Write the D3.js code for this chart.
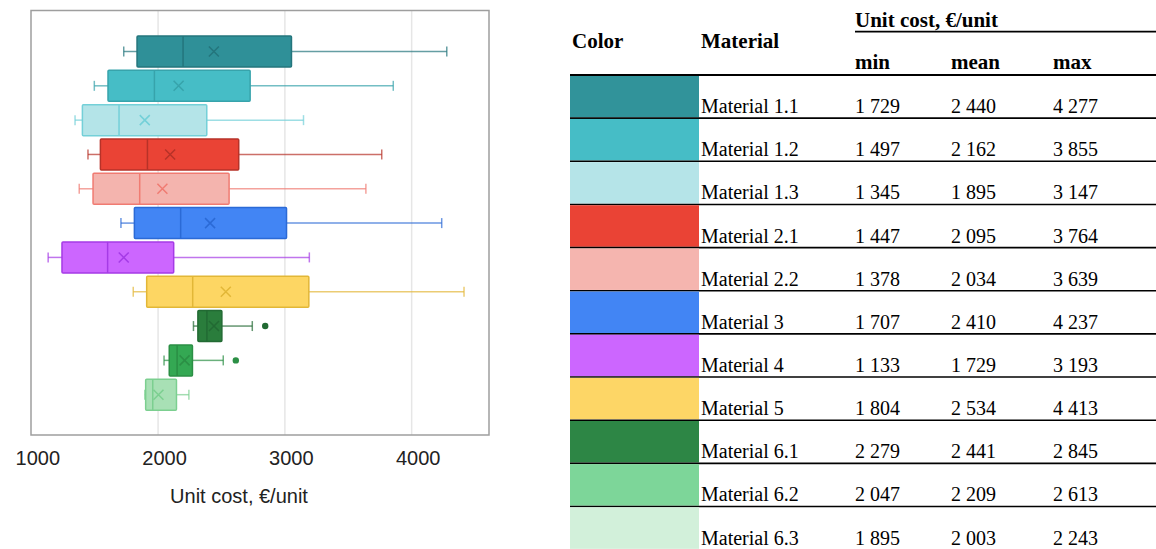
<!DOCTYPE html>
<html>
<head>
<meta charset="utf-8">
<script src="https://cdn.jsdelivr.net/npm/d3@7"></script>
<style>
  html, body { margin: 0; padding: 0; background: #fff; }
  svg { display: block; }
</style>
</head>
<body>
<svg id="chart" width="1156" height="549"></svg>
<script>
// Unit cost distribution per material (€/unit)
const materials = ["Material 1.1", "Material 1.2", "Material 1.3", "Material 2.1", "Material 2.2",
  "Material 3", "Material 4", "Material 5", "Material 6.1", "Material 6.2", "Material 6.3"];
const minVals  = [1729, 1497, 1345, 1447, 1378, 1707, 1133, 1804, 2279, 2047, 1895];
const q1Vals   = [1834, 1605, 1403, 1545, 1487, 1813, 1242, 1910, 2314, 2088, 1902];
const medVals  = [2197, 1971, 1692, 1916, 1855, 2178, 1602, 2273, 2385, 2150, 1958];
const q3Vals   = [3052, 2726, 2384, 2636, 2560, 3013, 2123, 3189, 2503, 2271, 2145];
const meanVals = [2440, 2162, 1895, 2095, 2034, 2410, 1729, 2534, 2441, 2209, 2003];
const upperWhisker = [4277, 3855, 3147, 3764, 3639, 4237, 3193, 4413, 2743, 2514, 2243];
const outliers = [[], [], [], [], [], [], [], [], [2845], [2613], []];
const maxVals  = [4277, 3855, 3147, 3764, 3639, 4237, 3193, 4413, 2845, 2613, 2243];
const xTicks = [1000, 2000, 3000, 4000];
const tableCols = ["min", "mean", "max"];

// Styles
const boxFill   = ["#2f9098", "#46bdc6", "#b4e4e8", "#ea4335", "#f4b4ae", "#4285f4", "#cc66ff", "#fdd663", "#2a7d3c", "#34a853", "#a8e0b5"];
const boxStroke = ["#24757c", "#37a3ab", "#74d0d8", "#b73228", "#f07b72", "#2b6ad6", "#a53be6", "#e2b737", "#226a33", "#2b8f45", "#7ccf90"];
const swatchColor = ["#31939a", "#46bdc6", "#b5e4e8", "#ea4335", "#f5b5af", "#4285f4", "#cc66ff", "#fdd666", "#2d8645", "#7dd699", "#d2f0da"];

const svg = d3.select("#chart");
const sans = "'Liberation Sans', Arial, Helvetica, sans-serif";
const serif = "'Liberation Serif', 'Times New Roman', Times, serif";

// ---------- Box plot ----------
const frame = { left: 31, top: 10.5, right: 489, bottom: 435 };
const x = d3.scaleLinear().domain([1000, 4610]).range([31.3, frame.right]);
const y = d3.scalePoint().domain(materials).range([51.5, 394.7]);
const boxH = 31, capH = 10, markHalf = 5;

const plot = svg.append("g");

plot.selectAll("line.grid").data(xTicks.slice(1)).join("line")
  .attr("class", "grid")
  .attr("x1", d => x(d)).attr("x2", d => x(d))
  .attr("y1", frame.top).attr("y2", frame.bottom)
  .attr("stroke", "#e6e6e6").attr("stroke-width", 1.5);

plot.append("rect")
  .attr("x", frame.left).attr("y", frame.top)
  .attr("width", frame.right - frame.left).attr("height", frame.bottom - frame.top)
  .attr("fill", "none").attr("stroke", "#9e9e9e").attr("stroke-width", 1.5);

const rows = plot.selectAll("g.row").data(materials).join("g")
  .attr("class", "row")
  .attr("transform", d => `translate(0,${y(d)})`);

// whiskers
rows.each(function (d, i) {
  const g = d3.select(this);
  const w = g.append("g").attr("stroke", boxStroke[i]).attr("stroke-opacity", 0.7).attr("stroke-width", 1.5);
  w.append("line").attr("x1", x(minVals[i])).attr("x2", x(q1Vals[i])).attr("y1", 0).attr("y2", 0);
  w.append("line").attr("x1", x(q3Vals[i])).attr("x2", x(upperWhisker[i])).attr("y1", 0).attr("y2", 0);
  [minVals[i], upperWhisker[i]].forEach(v => {
    w.append("line").attr("x1", x(v)).attr("x2", x(v)).attr("y1", -capH / 2).attr("y2", capH / 2);
  });

  g.append("rect")
    .attr("x", x(q1Vals[i])).attr("y", -boxH / 2)
    .attr("width", x(q3Vals[i]) - x(q1Vals[i])).attr("height", boxH)
    .attr("rx", 1)
    .attr("fill", boxFill[i]).attr("stroke", boxStroke[i]).attr("stroke-width", 1.5);

  g.append("line")
    .attr("x1", x(medVals[i])).attr("x2", x(medVals[i]))
    .attr("y1", -boxH / 2).attr("y2", boxH / 2)
    .attr("stroke", boxStroke[i]).attr("stroke-width", 1.5);

  const mx = x(meanVals[i]);
  g.append("path")
    .attr("d", `M${mx - markHalf},${-markHalf}L${mx + markHalf},${markHalf}M${mx - markHalf},${markHalf}L${mx + markHalf},${-markHalf}`)
    .attr("stroke", boxStroke[i]).attr("stroke-width", 1.5).attr("fill", "none");

  g.selectAll("circle").data(outliers[i]).join("circle")
    .attr("cx", v => x(v)).attr("cy", 0).attr("r", 3.2)
    .attr("fill", boxStroke[i]);
});

// x axis
const axis = svg.append("g")
  .attr("transform", `translate(0,${frame.bottom})`)
  .call(d3.axisBottom(x).tickValues(xTicks).tickSize(0).tickPadding(16).tickFormat(d3.format("d")));
axis.select(".domain").remove();
axis.selectAll("text")
  .attr("dx", 6)
  .style("font-family", sans).style("font-size", "20px").attr("fill", "#222");

svg.append("text")
  .attr("x", 239).attr("y", 503)
  .attr("text-anchor", "middle")
  .style("font-family", sans).style("font-size", "20px").attr("fill", "#222")
  .text("Unit cost, €/unit");

// ---------- Summary table ----------
const fmt = d3.formatLocale({ decimal: ".", thousands: "\u2009", grouping: [3], currency: ["", ""] }).format(",d");
const spaced = v => fmt(v).replace(/\u2009/g, " ");

const tbl = svg.append("g").style("font-family", serif).attr("fill", "#000");
const tLeft = 570, tRight = 1156, swatchRight = 699;
const colX = { color: 572, material: 701, min: 855, mean: 951, max: 1053 };
const headLine = 75, rowStep = 43.15;

tbl.append("text").attr("x", colX.color).attr("y", 48).style("font-weight", "bold").style("font-size", "21px").text("Color");
tbl.append("text").attr("x", colX.material).attr("y", 48).style("font-weight", "bold").style("font-size", "21px").text("Material");
tbl.append("text").attr("x", colX.min).attr("y", 26.5).style("font-weight", "bold").style("font-size", "21px").text("Unit cost, €/unit");
tbl.append("line").attr("x1", colX.min).attr("x2", tRight).attr("y1", 31.7).attr("y2", 31.7).attr("stroke", "#000").attr("stroke-width", 1.8);
tbl.selectAll("text.col").data(tableCols).join("text")
  .attr("class", "col")
  .attr("x", d => colX[d]).attr("y", 68.5)
  .style("font-weight", "bold").style("font-size", "21px")
  .text(d => d);

const trows = tbl.selectAll("g.trow").data(materials).join("g")
  .attr("class", "trow")
  .attr("transform", (d, i) => `translate(0,${headLine + i * rowStep})`);

trows.append("rect")
  .attr("x", tLeft).attr("y", 0.8)
  .attr("width", swatchRight - tLeft).attr("height", rowStep - 1.6)
  .attr("fill", (d, i) => swatchColor[i]);

trows.filter((d, i) => i < materials.length - 1).append("line")
  .attr("x1", tLeft).attr("x2", tRight)
  .attr("y1", rowStep).attr("y2", rowStep)
  .attr("stroke", "#000").attr("stroke-width", 1.6);

const rowText = (key, vals) => trows.append("text")
  .attr("x", colX[key]).attr("y", rowStep - 5)
  .style("font-size", "20px")
  .text((d, i) => vals ? spaced(vals[i]) : d);
rowText("material", null);
rowText("min", minVals);
rowText("mean", meanVals);
rowText("max", maxVals);

tbl.append("line").attr("x1", tLeft).attr("x2", tRight).attr("y1", headLine).attr("y2", headLine)
  .attr("stroke", "#000").attr("stroke-width", 2);
</script>
</body>
</html>
